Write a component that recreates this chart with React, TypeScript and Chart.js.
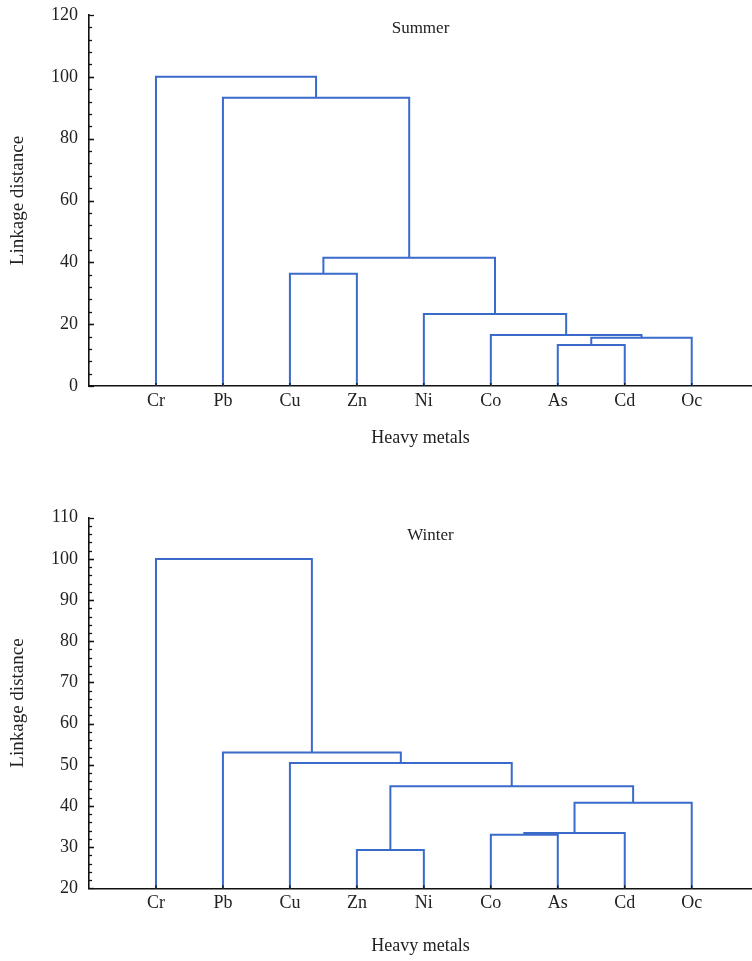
import React, { useEffect, useRef } from "react";
import { Chart, registerables } from "chart.js";

Chart.register(...registerables);

// ---------- data ----------
const metals = ["Cr", "Pb", "Cu", "Zn", "Ni", "Co", "As", "Cd", "Oc"];

// Linkage tables: leaves are nodes 0..8, each merge k creates node 9+k
const summerLeft = [6, 9, 5, 4, 2, 13, 1, 0];
const summerRight = [7, 8, 10, 11, 3, 12, 14, 15];
const summerHeight = [13.3, 15.6, 16.5, 23.3, 36.3, 41.5, 93.2, 100];
const summerTicks = [0, 20, 40, 60, 80, 100, 120];

const winterLeft = [3, 5, 10, 11, 9, 2, 1, 0];
const winterRight = [4, 6, 7, 8, 12, 13, 14, 15];
const winterHeight = [29.3, 33.0, 33.4, 40.8, 44.8, 50.4, 53.0, 100];
const winterTicks = [20, 30, 40, 50, 60, 70, 80, 90, 100, 110];

const LINE = "#3a6bcb";
const TEXT = "#222";
const FONT = "'Liberation Serif', 'Times New Roman', serif";

function buildDendrogram(left: number[], right: number[], height: number[], base: number) {
  const pos: number[] = metals.map((_, i) => i + 1);
  const h: number[] = metals.map(() => base);
  const datasets: any[] = [];
  left.forEach((a, k) => {
    const b = right[k];
    const y = height[k];
    datasets.push({
      data: [
        { x: pos[a], y: h[a] },
        { x: pos[a], y },
        { x: pos[b], y },
        { x: pos[b], y: h[b] },
      ],
      showLine: true,
      borderColor: LINE,
      borderWidth: 2,
      pointRadius: 0,
      pointHoverRadius: 0,
      fill: false,
      tension: 0,
      clip: false,
    });
    pos.push((pos[a] + pos[b]) / 2);
    h.push(y);
  });
  return datasets;
}

const decorPlugin = {
  id: "decor",
  afterDraw(chart: any, _args: any, opts: any) {
    const { ctx, chartArea, scales } = chart;
    const ys = scales.y;
    const xs = scales.x;
    ctx.save();
    ctx.strokeStyle = "#111";
    ctx.lineWidth = 1.3;
    const ticks: number[] = opts.ticks;
    const step = ticks[1] - ticks[0];
    const minor = step / 5;
    for (let i = 0; i < ticks.length - 1; i++) {
      for (let j = 0; j <= 5; j++) {
        const v = ticks[i] + j * minor;
        const py = Math.round(ys.getPixelForValue(v)) + 0.5;
        const len = j === 0 || j === 5 ? 5 : 3;
        ctx.beginPath();
        ctx.moveTo(chartArea.left, py);
        ctx.lineTo(chartArea.left + len, py);
        ctx.stroke();
      }
    }
    metals.forEach((_, i) => {
      const px = xs.getPixelForValue(i + 1);
      ctx.beginPath();
      ctx.moveTo(px, chartArea.bottom);
      ctx.lineTo(px, chartArea.bottom - 3);
      ctx.stroke();
    });
    ctx.fillStyle = TEXT;
    ctx.font = `17px ${FONT}`;
    ctx.textAlign = "center";
    ctx.textBaseline = "middle";
    ctx.fillText(
      opts.title,
      (chartArea.left + chartArea.right) / 2 + opts.dx,
      chartArea.top + opts.dy
    );
    ctx.restore();
  },
};

type Props = {
  left: number[];
  right: number[];
  height: number[];
  ticks: number[];
  title: string;
  canvasTop: number;
  canvasHeight: number;
  padTop: number;
  xScaleHeight: number;
  xTitlePad: number;
  titleDx: number;
  titleDy: number;
};

function Dendro(p: Props) {
  const ref = useRef<HTMLCanvasElement | null>(null);
  useEffect(() => {
    if (!ref.current) return;
    const min = p.ticks[0];
    const max = p.ticks[p.ticks.length - 1];
    const chart = new Chart(ref.current, {
      type: "scatter",
      data: { datasets: buildDendrogram(p.left, p.right, p.height, min) },
      plugins: [decorPlugin as any],
      options: {
        animation: false,
        responsive: false,
        devicePixelRatio: 1,
        events: [],
        layout: { padding: { top: p.padTop, left: 0, right: 0, bottom: 0 } },
        plugins: {
          legend: { display: false },
          tooltip: { enabled: false },
          decor: { ticks: p.ticks, title: p.title, dx: p.titleDx, dy: p.titleDy },
        } as any,
        scales: {
          x: {
            type: "linear",
            min: 0,
            max: 9.9,
            afterBuildTicks: (scale: any) => {
              scale.ticks = metals.map((_, i) => ({ value: i + 1 }));
            },
            afterFit: (scale: any) => {
              scale.height = p.xScaleHeight;
            },
            grid: { display: true, drawOnChartArea: false, drawTicks: false },
            border: { display: true, color: "#111", width: 1.6 },
            ticks: {
              autoSkip: false,
              maxRotation: 0,
              padding: 4,
              color: TEXT,
              font: { family: FONT, size: 18 },
              callback: (v: any) => metals[Math.round(Number(v)) - 1] ?? "",
            },
            title: {
              display: true,
              text: "Heavy metals",
              color: TEXT,
              font: { family: FONT, size: 18 },
              padding: { top: 0, bottom: p.xTitlePad },
            },
          },
          y: {
            type: "linear",
            min,
            max,
            afterBuildTicks: (scale: any) => {
              scale.ticks = p.ticks.map((v) => ({ value: v }));
            },
            afterFit: (scale: any) => {
              scale.width = 89;
            },
            grid: { display: true, drawOnChartArea: false, drawTicks: false },
            border: { display: true, color: "#111", width: 1.6 },
            ticks: {
              padding: 11,
              color: TEXT,
              font: { family: FONT, size: 18 },
            },
            title: {
              display: true,
              text: "Linkage distance",
              color: TEXT,
              font: { family: FONT, size: 19 },
              padding: { top: 6.6, bottom: 0 },
            },
          },
        },
      } as any,
    });
    return () => chart.destroy();
  }, []);
  return (
    <canvas
      ref={ref}
      width={752}
      height={p.canvasHeight}
      style={{
        display: "block",
        position: "absolute",
        left: 0,
        top: p.canvasTop,
        width: 752,
        height: p.canvasHeight,
      }}
    />
  );
}

export default function App() {
  return (
    <div
      style={{
        position: "absolute",
        left: 0,
        top: 0,
        width: 752,
        height: 961,
        overflow: "hidden",
        background: "#fff",
      }}
    >
      <Dendro
        left={summerLeft}
        right={summerRight}
        height={summerHeight}
        ticks={summerTicks}
        title="Summer"
        canvasTop={-12}
        canvasHeight={492}
        padTop={27}
        xScaleHeight={94}
        xTitlePad={31.2}
        titleDx={0}
        titleDy={14}
      />
      <Dendro
        left={winterLeft}
        right={winterRight}
        height={winterHeight}
        ticks={winterTicks}
        title="Winter"
        canvasTop={480}
        canvasHeight={481}
        padTop={37.7}
        xScaleHeight={72.7}
        xTitlePad={3.5}
        titleDx={10}
        titleDy={18}
      />
    </div>
  );
}
